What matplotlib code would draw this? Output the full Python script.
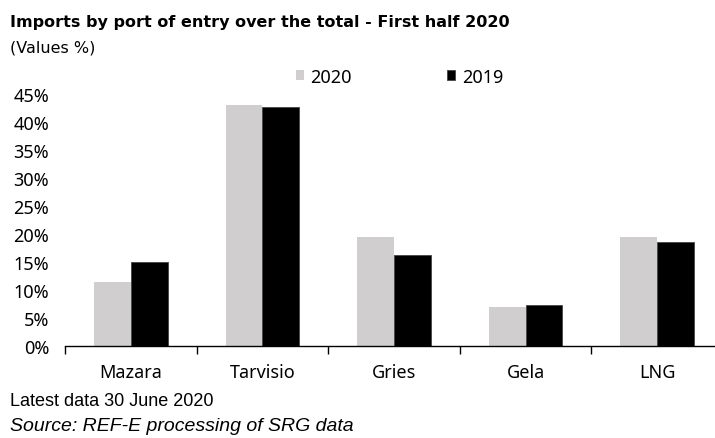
import matplotlib.pyplot as plt
import numpy as np

ports = ['Mazara', 'Tarvisio', 'Gries', 'Gela', 'LNG']
share_2020 = [11.4, 43.0, 19.5, 7.05, 19.5]
share_2019 = [15.0, 42.65, 16.25, 7.35, 18.6]
y_ticks = [0, 5, 10, 15, 20, 25, 30, 35, 40, 45]

plt.rcParams['font.family'] = ['Noto Sans', 'DejaVu Sans']

fig = plt.figure(figsize=(7.15, 4.39), dpi=100)
ax = fig.add_axes([65 / 715, (439 - 347) / 439, 1 - 65 / 715, (347 - 95) / 439])

x = np.arange(len(ports))
w = 0.28
ax.bar(x - w / 2, share_2020, w, color='#d0cecf', label='2020')
ax.bar(x + w / 2, share_2019, w, color='black', edgecolor='#444444', linewidth=0.6, label='2019')

ax.set_xlim(-0.5, 4.44)
ax.set_ylim(0, 45)
ax.set_yticks(y_ticks)
ax.set_yticklabels([f'{t}%' for t in y_ticks], fontsize=13)
ax.tick_params(axis='y', length=0, pad=11.5)

# category boundaries carry the tick marks, names sit in between
ax.set_xticks(np.arange(-0.5, 4.5, 1.0))
ax.set_xticklabels([])
ax.set_xticks(x, minor=True)
ax.set_xticklabels(ports, minor=True, fontsize=13)
ax.tick_params(axis='x', which='major', length=6, width=1, direction='out')
ax.tick_params(axis='x', which='minor', length=0, pad=12)

for side in ['left', 'right', 'top']:
    ax.spines[side].set_visible(False)
ax.spines['bottom'].set_linewidth(1)

ax.legend(loc='upper left', bbox_to_anchor=(283 / 715, 1 - 56 / 439), bbox_transform=fig.transFigure,
          ncol=2, frameon=False, fontsize=13, handlelength=0.45, handleheight=0.45,
          handletextpad=0.35, columnspacing=5.3, borderpad=0.2)

fig.text(10 / 715, 1 - 22 / 439, 'Imports by port of entry over the total - First half 2020',
         family='DejaVu Sans', fontweight='bold', fontsize=11.5, va='center')
fig.text(10 / 715, 1 - 48 / 439, '(Values %)', family='DejaVu Sans', fontsize=11.5, va='center')
fig.text(10 / 715, 1 - 402 / 439, 'Latest data 30 June 2020', family='Liberation Sans',
         fontsize=13, va='center')
fig.text(10 / 715, 1 - 427 / 439, 'Source: REF-E processing of SRG data', family='Liberation Sans',
         fontsize=14, style='italic', va='center')

fig.savefig('out.png', dpi=100)
